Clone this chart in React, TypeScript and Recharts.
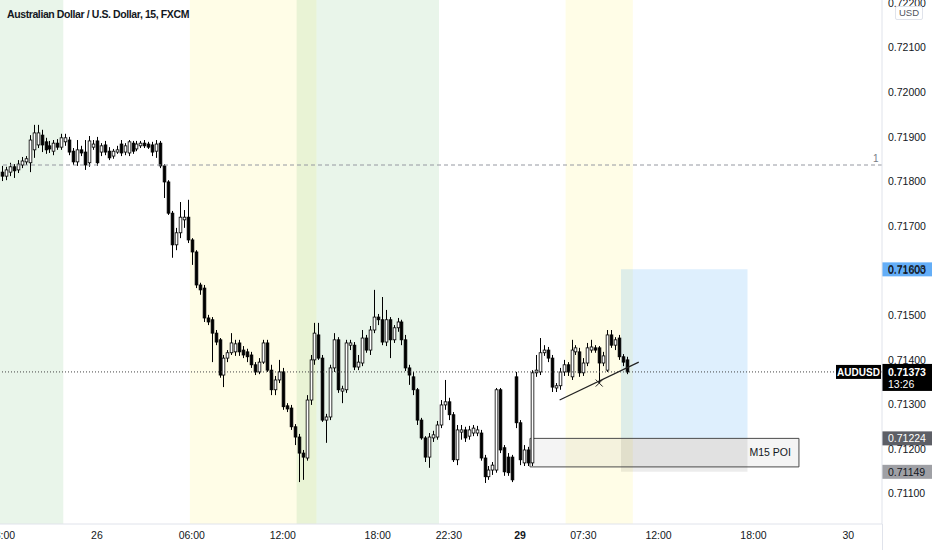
import React from 'react';
import {
  ComposedChart,
  Bar,
  XAxis,
  YAxis,
  ReferenceArea,
  ReferenceLine,
  ReferenceDot,
} from 'recharts';

// AUDUSD 15m candles
const opens = [
  0.71821, 0.71812, 0.71821, 0.71833, 0.71826, 0.71837, 0.71844, 0.71842, 0.71871, 0.71882,
  0.71904, 0.71889, 0.7188, 0.71868, 0.71886, 0.71877, 0.71889, 0.71893, 0.71868, 0.71844,
  0.71871, 0.71866, 0.71842, 0.71877, 0.71891, 0.71866, 0.71882, 0.71868, 0.71857, 0.71866,
  0.71884, 0.71866, 0.71864, 0.71886, 0.71873, 0.7188, 0.71886, 0.71884, 0.71882, 0.71868,
  0.71886, 0.71835, 0.71799, 0.71729, 0.71658, 0.71685, 0.71714, 0.7172, 0.71669, 0.71642,
  0.71568, 0.71561, 0.71494, 0.7149, 0.7146, 0.71445, 0.71366, 0.71404, 0.71416, 0.71418,
  0.71438, 0.71422, 0.71418, 0.71411, 0.71389, 0.71373, 0.71395, 0.71438, 0.71377, 0.71333,
  0.71355, 0.71373, 0.71297, 0.71292, 0.7125, 0.71227, 0.71191, 0.7118, 0.7131, 0.714,
  0.71456, 0.71404, 0.71265, 0.71272, 0.71382, 0.71445, 0.7133, 0.71333, 0.71433, 0.71433,
  0.71384, 0.71393, 0.71449, 0.71422, 0.71467, 0.71496, 0.7149, 0.7144, 0.7149, 0.71445,
  0.71472, 0.71485, 0.71445, 0.71382, 0.71362, 0.71333, 0.71265, 0.71225, 0.71182, 0.71225,
  0.71227, 0.71254, 0.71299, 0.71306, 0.71277, 0.71176, 0.71238, 0.71243, 0.71229, 0.71236,
  0.71236, 0.71236, 0.7118, 0.71138, 0.71153, 0.71153, 0.71333, 0.71203, 0.71182, 0.71182,
  0.71362, 0.71259, 0.71169, 0.71198, 0.71169, 0.71371, 0.71373, 0.71416, 0.71422, 0.71404,
  0.71337, 0.71342, 0.71373, 0.71389, 0.71362, 0.71418, 0.71418, 0.71371, 0.71393, 0.71422,
  0.71427, 0.71427, 0.71393, 0.71377, 0.71456, 0.71433, 0.71449, 0.71407, 0.714,
];
const highs = [
  0.71835, 0.71833, 0.71842, 0.71839, 0.71848, 0.71855, 0.71857, 0.71904, 0.71927, 0.71927,
  0.71916, 0.71898, 0.71891, 0.71893, 0.71895, 0.71907, 0.71907, 0.719, 0.71875, 0.71893,
  0.7188, 0.71893, 0.71902, 0.71893, 0.719, 0.71886, 0.71891, 0.71877, 0.71873, 0.7188,
  0.71893, 0.71886, 0.71893, 0.71891, 0.71891, 0.71891, 0.71893, 0.71889, 0.71889, 0.71893,
  0.71891, 0.71839, 0.71803, 0.71734, 0.71696, 0.71754, 0.71736, 0.71759, 0.71673, 0.71646,
  0.71573, 0.71568, 0.71501, 0.71496, 0.71467, 0.71449, 0.71411, 0.71422, 0.7146, 0.71445,
  0.71445, 0.71431, 0.71425, 0.71418, 0.71395, 0.71404, 0.71445, 0.71445, 0.71389, 0.71364,
  0.714, 0.71382, 0.71303, 0.71299, 0.71256, 0.71234, 0.71198, 0.71321, 0.71411, 0.71483,
  0.71483, 0.71411, 0.71279, 0.71389, 0.7146, 0.71451, 0.71342, 0.71445, 0.71445, 0.7144,
  0.71411, 0.71467, 0.71456, 0.71476, 0.71557, 0.71503, 0.71541, 0.71512, 0.71496, 0.71478,
  0.71494, 0.7149, 0.71456, 0.71389, 0.71373, 0.71337, 0.7127, 0.71229, 0.71236, 0.71241,
  0.71263, 0.7131, 0.71355, 0.71315, 0.71283, 0.71254, 0.71254, 0.7125, 0.71252, 0.71254,
  0.71252, 0.71243, 0.71187, 0.71162, 0.71171, 0.71337, 0.71337, 0.71209, 0.71191, 0.71187,
  0.71373, 0.71265, 0.71209, 0.71205, 0.71377, 0.71411, 0.71449, 0.71433, 0.71429, 0.71411,
  0.71348, 0.71382, 0.714, 0.71395, 0.71445, 0.71433, 0.71427, 0.71404, 0.71438, 0.71445,
  0.71433, 0.71431, 0.71418, 0.71467, 0.71467, 0.71451, 0.71456, 0.71413, 0.71407,
];
const lows = [
  0.71801, 0.71803, 0.71812, 0.71808, 0.71819, 0.7183, 0.71837, 0.71821, 0.71853, 0.71875,
  0.71866, 0.71862, 0.71864, 0.71859, 0.71871, 0.71871, 0.7188, 0.71859, 0.71837, 0.71835,
  0.71857, 0.71826, 0.71833, 0.71871, 0.71835, 0.71857, 0.71859, 0.71848, 0.71851, 0.71862,
  0.71857, 0.71859, 0.71857, 0.71862, 0.71868, 0.71875, 0.71875, 0.71873, 0.71857, 0.71853,
  0.7183, 0.71763, 0.71725, 0.71629, 0.71646, 0.71673, 0.71696, 0.71662, 0.71613, 0.71561,
  0.71546, 0.71485, 0.71478, 0.71395, 0.71433, 0.7136, 0.71339, 0.71395, 0.71411, 0.71409,
  0.71409, 0.71404, 0.71395, 0.71382, 0.71366, 0.71368, 0.71391, 0.71373, 0.71321, 0.71321,
  0.71348, 0.71288, 0.71283, 0.71243, 0.71209, 0.71126, 0.71131, 0.71174, 0.71299, 0.71389,
  0.714, 0.71261, 0.71214, 0.71265, 0.71373, 0.71326, 0.71303, 0.71326, 0.71422, 0.71377,
  0.71377, 0.71386, 0.71416, 0.71411, 0.7146, 0.71478, 0.71433, 0.71431, 0.71404, 0.71438,
  0.71463, 0.71433, 0.71375, 0.71344, 0.71321, 0.71254, 0.71221, 0.71171, 0.71158, 0.71216,
  0.71221, 0.71247, 0.71288, 0.71265, 0.71171, 0.71164, 0.71221, 0.71216, 0.71221, 0.71229,
  0.71229, 0.71174, 0.71124, 0.71131, 0.71142, 0.71147, 0.71191, 0.7114, 0.7114, 0.71126,
  0.71247, 0.71164, 0.71162, 0.71162, 0.71162, 0.71362, 0.71366, 0.71409, 0.71395, 0.71328,
  0.71328, 0.71333, 0.71364, 0.71364, 0.71355, 0.71411, 0.71362, 0.71364, 0.71386, 0.71416,
  0.71416, 0.71348, 0.71386, 0.71373, 0.71427, 0.71422, 0.714, 0.71386, 0.71368,
];
const closes = [
  0.71812, 0.71826, 0.71833, 0.71824, 0.71839, 0.71846, 0.71851, 0.71893, 0.71909, 0.71909,
  0.71882, 0.71871, 0.71873, 0.71886, 0.71877, 0.71898, 0.71898, 0.71866, 0.71844, 0.71871,
  0.71864, 0.71837, 0.71891, 0.71884, 0.71842, 0.7188, 0.71866, 0.71853, 0.71868, 0.71871,
  0.71864, 0.7188, 0.71889, 0.71868, 0.71884, 0.71886, 0.7188, 0.71877, 0.71866, 0.71884,
  0.71835, 0.71799, 0.71729, 0.71658, 0.71685, 0.7172, 0.7172, 0.71669, 0.71642, 0.71568,
  0.71557, 0.71494, 0.71485, 0.7146, 0.7144, 0.71366, 0.71404, 0.71416, 0.71438, 0.71436,
  0.71418, 0.71411, 0.71407, 0.71389, 0.71373, 0.71395, 0.71438, 0.71377, 0.71333, 0.71355,
  0.71373, 0.71295, 0.7129, 0.7125, 0.71227, 0.71191, 0.71182, 0.7131, 0.714, 0.7146,
  0.71404, 0.71265, 0.71272, 0.71382, 0.71445, 0.71333, 0.71335, 0.71438, 0.71438, 0.71384,
  0.71395, 0.71449, 0.71422, 0.71467, 0.71496, 0.7149, 0.7144, 0.7149, 0.71445, 0.71472,
  0.71485, 0.71445, 0.71382, 0.71366, 0.71333, 0.71265, 0.71225, 0.71182, 0.71227, 0.71232,
  0.71254, 0.71299, 0.71306, 0.71277, 0.71176, 0.71243, 0.71243, 0.71225, 0.71243, 0.71247,
  0.71243, 0.7118, 0.71138, 0.71153, 0.71164, 0.71333, 0.71198, 0.71149, 0.71147, 0.71131,
  0.71259, 0.71176, 0.71198, 0.71169, 0.71371, 0.71377, 0.71416, 0.71422, 0.71404, 0.71339,
  0.71342, 0.71373, 0.71389, 0.71373, 0.71422, 0.71427, 0.71371, 0.71393, 0.71427, 0.71429,
  0.71422, 0.71393, 0.71409, 0.71456, 0.71433, 0.71445, 0.71407, 0.71395, 0.71373,
];

const emptySlots = 64; // blank space right of the last candle
const timeTickSlots = [0, 24, 48, 71, 95, 113, 131, 147, 166, 190, 214];
const timeTickLabels = ['18:00', '26', '06:00', '12:00', '18:00', '22:30', '29', '07:30', '12:00', '18:00', '30'];
const boldTimeLabels = ['29'];
const priceTicks = [0.711, 0.712, 0.713, 0.714, 0.715, 0.716, 0.717, 0.718, 0.719, 0.72, 0.721, 0.722];
const priceDomain = [0.71032, 0.72207];

const lastPrice = 0.71373;
const timeToClose = '13:26';
const levelLine = 0.71837;
const targetPrice = 0.71603;
const entryPrice = 0.71224;
const stopPrice = 0.71149;
const poiLow = 0.7116;
const trendStart = { slot: 141, price: 0.7131 };
const trendEnd = { slot: 161, price: 0.71395 };
const crossMark = { slot: 151, price: 0.71348 };

// sessions: [firstSlot, lastSlot, colour]
const sessions: [number, number, string][] = [
  [0, 15, 'rgba(76,175,80,0.12)'],
  [48, 79, 'rgba(255,235,59,0.12)'],
  [75, 110, 'rgba(76,175,80,0.12)'],
  [143, 159, 'rgba(255,235,59,0.12)'],
];

const FONT = '"Liberation Sans", Arial, sans-serif';

const rows = Array.from({ length: opens.length + emptySlots }, (_, i) =>
  i < opens.length
    ? { t: i, range: [lows[i], highs[i]], open: opens[i], close: closes[i] }
    : { t: i, range: null, open: null, close: null }
);

const Candle = (props: any) => {
  const { x, y, width, height, payload } = props;
  if (!payload || !payload.range) return null;
  const [lo, hi] = payload.range;
  const toY = (v: number) => y + ((hi - v) / (hi - lo)) * height;
  const up = payload.close >= payload.open;
  const top = toY(Math.max(payload.open, payload.close));
  const bot = toY(Math.min(payload.open, payload.close));
  const cx = Math.round(x + width / 2) + 0.5;
  const bw = Math.max(1, width - 1.3);
  return (
    <g>
      <line x1={cx} x2={cx} y1={y} y2={y + height} stroke="#000" strokeWidth={1} />
      <rect
        x={cx - bw / 2}
        y={top}
        width={bw}
        height={Math.max(bot - top, 0.8)}
        fill={up ? '#fff' : '#000'}
        stroke="#000"
        strokeWidth={0.8}
      />
    </g>
  );
};

const TimeTick = (props: any) => {
  const { x, y, payload } = props;
  const label = timeTickLabels[timeTickSlots.indexOf(payload.value)];
  return (
    <text
      x={x}
      y={y}
      dy="0.71em"
      textAnchor="middle"
      fontSize={10.5}
      fill="#131722"
      fontFamily={FONT}
      fontWeight={boldTimeLabels.includes(label) ? 700 : 400}
    >
      {label}
    </text>
  );
};

const priceTag = (text: string, bg: string, fg: string) => (props: any) => {
  const vb = props.viewBox;
  if (!vb) return null;
  const left = vb.x + vb.width;
  return (
    <g>
      <rect x={left} y={vb.y - 7} width={50} height={14} fill={bg} />
      <text x={left + 6} y={vb.y + 4} fontSize={10.5} fill={fg} fontFamily={FONT}>
        {text}
      </text>
    </g>
  );
};

const lastPriceTag = (props: any) => {
  const vb = props.viewBox;
  if (!vb) return null;
  const left = vb.x + vb.width;
  return (
    <g fontFamily={FONT}>
      <rect x={left - 46} y={vb.y - 7} width={45} height={14} fill="#000" />
      <text x={left - 23.5} y={vb.y + 4} fontSize={10} fill="#fff" fontWeight={700} textAnchor="middle">
        AUDUSD
      </text>
      <rect x={left} y={vb.y - 8} width={50} height={27} fill="#000" />
      <text x={left + 6} y={vb.y + 4} fontSize={10.5} fill="#fff" fontWeight={700}>
        {lastPrice.toFixed(5)}
      </text>
      <text x={left + 6} y={vb.y + 16} fontSize={10.5} fill="#fff">
        {timeToClose}
      </text>
    </g>
  );
};

const levelTag = (props: any) => {
  const vb = props.viewBox;
  if (!vb) return null;
  return (
    <text x={vb.x + vb.width - 9} y={vb.y - 3} fontSize={10} fill="#787b86" fontFamily={FONT}>
      1
    </text>
  );
};

const Cross = (props: any) => {
  const { cx, cy } = props;
  if (cx == null) return null;
  return (
    <g stroke="#222" strokeWidth={1}>
      <line x1={cx - 3.5} y1={cy - 3.5} x2={cx + 3.5} y2={cy + 3.5} />
      <line x1={cx - 3.5} y1={cy + 3.5} x2={cx + 3.5} y2={cy - 3.5} />
    </g>
  );
};

export default function App() {
  return (
    <div style={{ position: 'absolute', left: 0, top: 0, width: 932, height: 550, background: '#fff' }}>
      <ComposedChart
        width={932}
        height={550}
        data={rows}
        margin={{ top: 0, right: 0, bottom: 0, left: 0 }}
        barCategoryGap={0}
        barGap={0}
        style={{ fontFamily: FONT }}
      >
        {sessions.map(([a, b, c], k) => (
          <ReferenceArea key={k} x1={a} x2={b} fill={c} fillOpacity={1} strokeOpacity={0} />
        ))}
        <XAxis
          dataKey="t"
          type="category"
          ticks={timeTickSlots}
          interval={0}
          height={26}
          tickLine={false}
          axisLine={{ stroke: '#e0e3eb' }}
          tick={<TimeTick />}
        />
        <YAxis
          orientation="right"
          type="number"
          domain={priceDomain}
          allowDataOverflow
          ticks={priceTicks}
          interval={0}
          width={50}
          tickLine={false}
          tickSize={4}
          tickMargin={2}
          axisLine={{ stroke: '#e0e3eb' }}
          tick={{ fontSize: 10.5, fill: '#131722', fontFamily: FONT }}
          tickFormatter={(v: number) => v.toFixed(5)}
        />
        <Bar dataKey="range" shape={Candle} isAnimationActive={false} />
        <ReferenceArea
          x1={157}
          x2={188}
          y1={entryPrice}
          y2={targetPrice}
          fill="rgba(33,150,243,0.15)"
          fillOpacity={1}
          strokeOpacity={0}
        />
        <ReferenceArea
          x1={157}
          x2={188}
          y1={stopPrice}
          y2={entryPrice}
          fill="rgba(0,0,0,0.075)"
          fillOpacity={1}
          strokeOpacity={0}
        />
        <ReferenceArea
          x1={134}
          x2={201}
          y1={poiLow}
          y2={entryPrice}
          fill="rgba(0,0,0,0.045)"
          fillOpacity={1}
          stroke="#4a4a4a"
          strokeWidth={1}
          label={{ value: 'M15 POI', position: 'insideRight', offset: 8, fontSize: 10.5, fill: '#131722' }}
        />
        <ReferenceLine y={levelLine} stroke="#9598a1" strokeDasharray="4 3" label={levelTag} />
        <ReferenceLine y={lastPrice} stroke="#444" strokeDasharray="1 2" label={lastPriceTag} />
        <ReferenceLine y={targetPrice} stroke="none" label={priceTag(targetPrice.toFixed(5), '#64aef7', '#131722')} />
        <ReferenceLine y={entryPrice} stroke="none" label={priceTag(entryPrice.toFixed(5), '#5d5f66', '#fff')} />
        <ReferenceLine y={stopPrice} stroke="none" label={priceTag(stopPrice.toFixed(5), '#9fa0a5', '#131722')} />
        <ReferenceLine
          segment={[
            { x: trendStart.slot, y: trendStart.price },
            { x: trendEnd.slot, y: trendEnd.price },
          ]}
          stroke="#222"
          strokeWidth={1.2}
        />
        <ReferenceDot x={crossMark.slot} y={crossMark.price} r={4} shape={Cross} />
      </ComposedChart>
      <div
        style={{
          position: 'absolute',
          left: 7,
          top: 8,
          fontFamily: FONT,
          fontSize: 10.5,
          fontWeight: 700,
          letterSpacing: -0.4,
          lineHeight: '12px',
          whiteSpace: 'nowrap',
          color: '#131722',
        }}
      >
        Australian Dollar / U.S. Dollar, 15, FXCM
      </div>
      <div
        style={{
          position: 'absolute',
          left: 895,
          top: 6,
          padding: '0 3px',
          border: '1px solid #e0e3eb',
          borderRadius: 2,
          background: '#fff',
          fontFamily: FONT,
          fontSize: 9.5,
          lineHeight: '12px',
          color: '#50535e',
        }}
      >
        USD
      </div>
      <div style={{ position: 'absolute', left: 882, top: 524, width: 1, height: 26, background: '#e0e3eb' }} />
    </div>
  );
}
